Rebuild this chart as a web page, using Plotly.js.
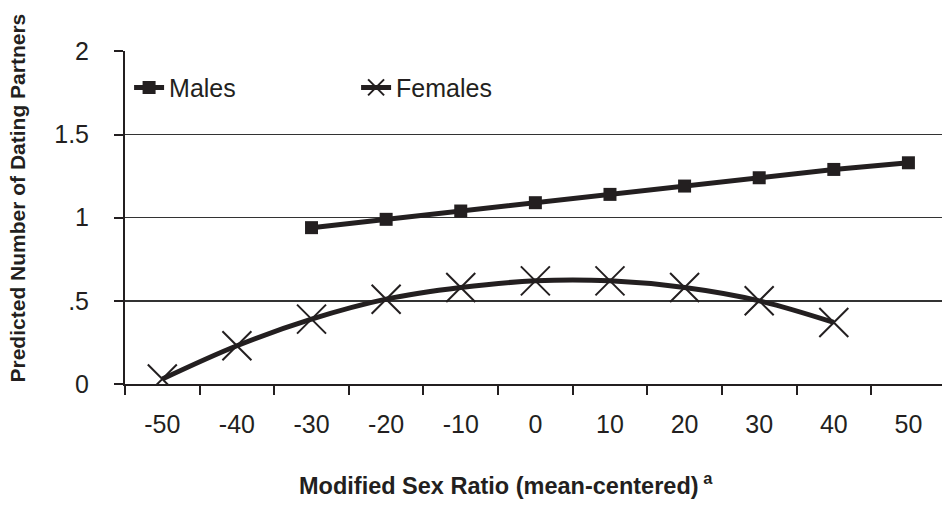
<!DOCTYPE html>
<html>
<head>
<meta charset="utf-8">
<script src="https://cdn.plot.ly/plotly-3.0.1.min.js"></script>
<style>html,body{margin:0;padding:0;background:#fff;}#chart{width:942px;height:508px;}</style>
</head>
<body>
<div id="chart"></div>
<script>
// Data
const malesX = [-30, -20, -10, 0, 10, 20, 30, 40, 50];
const malesY = [0.94, 0.99, 1.04, 1.09, 1.14, 1.19, 1.24, 1.29, 1.33];
const femalesX = [-50, -40, -30, -20, -10, 0, 10, 20, 30, 40];
const femalesY = [0.03, 0.23, 0.39, 0.51, 0.58, 0.62, 0.62, 0.58, 0.50, 0.37];
const xTickVals = [-50, -40, -30, -20, -10, 0, 10, 20, 30, 40, 50];
const xTickText = ['-50', '-40', '-30', '-20', '-10', '0', '10', '20', '30', '40', '50'];
const yTickVals = [0, 0.5, 1, 1.5, 2];
const yTickText = ['0', '.5', '1', '1.5', '2'];

const INK = '#231f20';
const FONT = '"Liberation Sans", Arial, sans-serif';

const traces = [
  {
    x: malesX, y: malesY, name: 'Males', type: 'scatter', mode: 'lines+markers',
    line: {color: INK, width: 5},
    marker: {symbol: 'square', size: 13, color: INK}
  },
  {
    x: femalesX, y: femalesY, name: 'Females', type: 'scatter', mode: 'lines+markers',
    line: {color: INK, width: 5, shape: 'spline', smoothing: 1},
    marker: {symbol: 'x-thin-open', size: 29, color: INK, line: {color: INK, width: 2}}
  }
];

const layout = {
  width: 942, height: 508,
  margin: {l: 125, r: 0, t: 51, b: 124},
  paper_bgcolor: '#fff', plot_bgcolor: '#fff',
  font: {family: FONT, color: INK, size: 25},
  showlegend: true,
  legend: {
    orientation: 'h', x: 0.005, y: 0.89, xanchor: 'left', yanchor: 'middle',
    font: {family: FONT, size: 25, color: INK},
    entrywidth: 182, entrywidthmode: 'pixels',
    bgcolor: 'rgba(0,0,0,0)'
  },
  xaxis: {
    range: [-55, 54.5], tickmode: 'array', tickvals: xTickVals, ticktext: xTickText,
    ticks: '', showgrid: false, zeroline: false,
    showline: true, linecolor: INK, linewidth: 2,
    ticklabelstandoff: 17,
    tickfont: {family: FONT, size: 25, color: INK},
    minor: {tick0: -55, dtick: 10, ticks: 'outside', ticklen: 9, tickwidth: 2, tickcolor: INK, showgrid: false},
    fixedrange: true
  },
  yaxis: {
    range: [0, 2.002], tickmode: 'array', tickvals: yTickVals, ticktext: yTickText,
    ticks: 'outside', ticklen: 9, tickwidth: 2, tickcolor: INK,
    showgrid: true, gridcolor: '#333', gridwidth: 1.5, zeroline: false,
    showline: true, linecolor: INK, linewidth: 2,
    ticklabelstandoff: 20,
    tickfont: {family: FONT, size: 25, color: INK},
    fixedrange: true
  },
  annotations: [
    {
      text: '<b>Modified Sex Ratio (mean-centered)</b><sup><b> a</b></sup>',
      xref: 'paper', yref: 'paper', x: 0.466, y: -0.30, xanchor: 'center', yanchor: 'middle',
      showarrow: false, font: {family: FONT, size: 23.5, color: INK}
    },
    {
      text: '<b>Predicted Number of Dating Partners</b>',
      xref: 'paper', yref: 'paper', x: -0.131, y: 0.56, xanchor: 'center', yanchor: 'middle',
      textangle: -90, showarrow: false, font: {family: FONT, size: 21, color: INK}
    }
  ]
};

Plotly.newPlot('chart', traces, layout, {displayModeBar: false, staticPlot: true});
</script>
</body>
</html>
